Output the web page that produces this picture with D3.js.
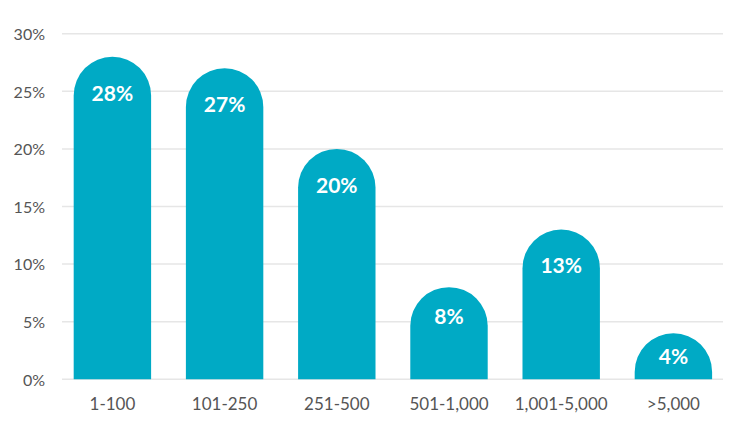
<!DOCTYPE html>
<html>
<head>
<meta charset="utf-8">
<script src="https://cdn.jsdelivr.net/npm/d3@7"></script>
<style>
  html, body { margin: 0; padding: 0; background: #ffffff; }
  svg { display: block; }
</style>
</head>
<body>
<svg id="chart" width="742" height="424"></svg>
<script>
const categories = ["1-100", "101-250", "251-500", "501-1,000", "1,001-5,000", ">5,000"];
const values = [28, 27, 20, 8, 13, 4];
const yTicks = [0, 5, 10, 15, 20, 25, 30];

const W = 742, H = 424;
const svg = d3.select("#chart");

const x = d3.scaleBand()
  .domain(categories)
  .range([56.3, 729.5])
  .paddingInner(0.31)
  .paddingOuter(0.155);

const y = d3.scaleLinear()
  .domain([0, 30])
  .range([379.3, 33.7]);

const gridX0 = 62, gridX1 = 723;

// Gridlines
svg.append("g")
  .selectAll("line")
  .data(yTicks)
  .join("line")
  .attr("x1", gridX0)
  .attr("x2", gridX1)
  .attr("y1", d => y(d))
  .attr("y2", d => y(d))
  .attr("stroke", "#e6e6e6")
  .attr("stroke-width", 1.5);

// Y axis labels
const yAxis = d3.axisLeft(y).tickValues(yTicks).tickFormat(d => d + "%").tickSize(0).tickPadding(0);
const ya = svg.append("g").attr("transform", "translate(45,0)").call(yAxis);
ya.select(".domain").remove();
ya.selectAll("text")
  .attr("fill", "#555555")
  .attr("font-family", "Lato, 'Open Sans', sans-serif")
  .attr("font-size", 16)
  .attr("dy", "0.36em");

// X axis labels
const xAxis = d3.axisBottom(x).tickSize(0).tickPadding(0);
const xa = svg.append("g").attr("transform", "translate(0,396.5)").call(xAxis);
xa.select(".domain").remove();
xa.selectAll("text")
  .attr("fill", "#555555")
  .attr("font-family", "Lato, 'Open Sans', sans-serif")
  .attr("font-size", 17)
  .attr("dy", "0.78em");

// Bars with rounded tops
function barPath(d, i) {
  const x0 = x(categories[i]);
  const w = x.bandwidth();
  const x1 = x0 + w;
  const r = w / 2;
  const yb = y(0);
  const yt = y(d);
  const ys = Math.min(yb, yt + r);
  return `M${x0},${yb} L${x0},${ys} A${r},${r} 0 0 1 ${x1},${ys} L${x1},${yb} Z`;
}

svg.append("g")
  .selectAll("path")
  .data(values)
  .join("path")
  .attr("d", barPath)
  .attr("fill", "#00aac5");

// Value labels
svg.append("g")
  .selectAll("text")
  .data(values)
  .join("text")
  .attr("x", (d, i) => x(categories[i]) + x.bandwidth() / 2)
  .attr("y", d => {
    const h = y(0) - y(d);
    return y(d) + Math.min(36.5, 18 + 0.12 * h);
  })
  .attr("dy", "0.36em")
  .attr("text-anchor", "middle")
  .attr("fill", "#ffffff")
  .attr("font-family", "Lato, 'Open Sans', sans-serif")
  .attr("font-weight", "bold")
  .attr("font-size", 21)
  .text(d => d + "%");
</script>
</body>
</html>
